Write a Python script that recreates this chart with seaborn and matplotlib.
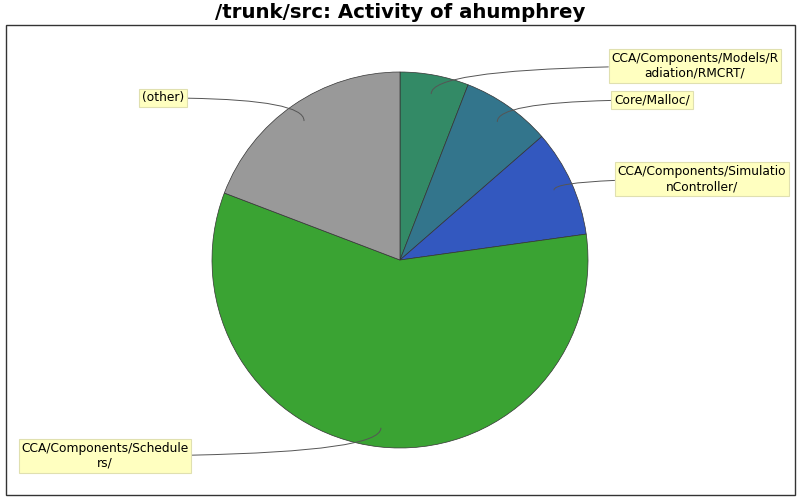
import numpy as np
import matplotlib
matplotlib.use("Agg")
import matplotlib.pyplot as plt
import seaborn as sns
from matplotlib.patches import Rectangle

# Slice data (clockwise from 12 o'clock)
labels = [
    "CCA/Components/Models/R\nadiation/RMCRT/",
    "Core/Malloc/",
    "CCA/Components/Simulatio\nnController/",
    "CCA/Components/Schedule\nrs/",
    "(other)",
]
shares = [5.9, 7.7, 9.2, 58.0, 19.2]
colors = ["#338a66", "#33758c", "#3358bf", "#3aa333", "#999999"]

# label box centres in pixel space (x, y from top)
label_pos = [(695, 66), (652, 100), (702, 179), (105, 456), (163, 98)]

sns.set_style("white")
plt.rcParams["font.family"] = ["DejaVu Sans"]
plt.rcParams["text.color"] = "black"

fig = plt.figure(figsize=(8, 5), dpi=100)
ax = fig.add_axes([0, 0, 1, 1])

cx, cy, r = 400, 500 - 260, 188
wedges, _ = ax.pie(shares, colors=colors, startangle=90, counterclock=False,
                   center=(cx, cy), radius=r,
                   wedgeprops=dict(edgecolor="#333333", linewidth=0.5))
ax.set_xlim(0, 800)
ax.set_ylim(0, 500)
ax.set_aspect("equal")
ax.axis("off")

# outer frame
ax.add_patch(Rectangle((6, 5), 789, 470, fill=False, edgecolor="#333333", linewidth=1))

# labels with curved leader lines
for w, lab, (lx, ly) in zip(wedges, labels, label_pos):
    mid = np.deg2rad((w.theta1 + w.theta2) / 2)
    ax_x = cx + 0.9 * r * np.cos(mid)
    ax_y = cy + 0.9 * r * np.sin(mid)
    ax.annotate(lab, xy=(ax_x, ax_y), xytext=(lx, 500 - ly),
                ha="center", va="center", multialignment="center", fontsize=8.8,
                color="black",
                bbox=dict(boxstyle="square,pad=0.22", facecolor="#ffffc0",
                          edgecolor="#e0e0b0", linewidth=0.8),
                arrowprops=dict(arrowstyle="-", color="#555555", linewidth=0.7,
                                connectionstyle="angle3,angleA=0,angleB=90",
                                shrinkA=0, shrinkB=0))

fig.text(0.5, 1 - 13 / 500, "/trunk/src: Activity of ahumphrey",
         ha="center", va="center", fontsize=14.2, fontweight="bold", color="black")

fig.savefig("out.png", dpi=100)
